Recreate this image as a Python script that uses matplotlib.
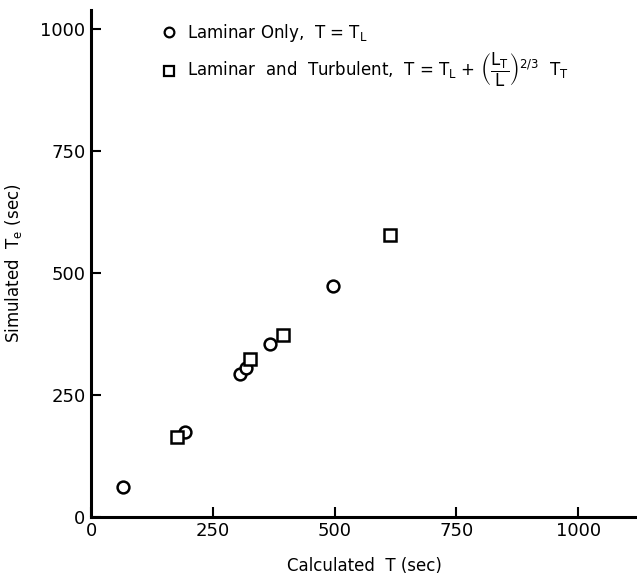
import matplotlib.pyplot as plt
from matplotlib.lines import Line2D

# laminar only (circles)
lam_x = [66, 192, 306, 318, 368, 496]
lam_y = [62, 173, 292, 305, 354, 472]
# laminar and turbulent (squares)
turb_x = [177, 327, 394, 614]
turb_y = [163, 324, 373, 578]

ticks = [0, 250, 500, 750, 1000]
tick_labels = ['0', '250', '500', '750', '1000']

fig = plt.figure(figsize=(6.37, 5.8), dpi=100)
ax = fig.add_axes([0.143, 0.109, 0.857, 0.874])

ax.plot(lam_x, lam_y, 'o', ms=8.5, mfc='white', mec='black', mew=1.8, ls='none')
ax.plot(turb_x, turb_y, 's', ms=8, mfc='white', mec='black', mew=1.8, ls='none')

ax.set_xlim(0, 1121)
ax.set_ylim(0, 1039)
ax.set_xticks(ticks)
ax.set_xticklabels(tick_labels)
ax.set_yticks(ticks)
ax.set_yticklabels(tick_labels)
ax.tick_params(direction='in', length=7, width=1.5, labelsize=13, pad=4)

for s in ['top', 'right']:
    ax.spines[s].set_visible(False)
for s in ['left', 'bottom']:
    ax.spines[s].set_linewidth(2.2)

ax.set_xlabel('Calculated  T (sec)', fontsize=12, labelpad=12)
ax.set_ylabel('Simulated  $\\mathregular{T_e}$ (sec)', fontsize=12, labelpad=12)

handles = [
    Line2D([], [], marker='o', ls='none', ms=7, mfc='white', mec='black', mew=1.6),
    Line2D([], [], marker='s', ls='none', ms=7, mfc='white', mec='black', mew=1.6),
]
labels = [
    'Laminar Only,  T = $\\mathregular{T_L}$',
    'Laminar  and  Turbulent,  T = $\\mathregular{T_L}$ + '
    '$\\left(\\dfrac{\\mathregular{L_T}}{\\mathregular{L}}\\right)^{2/3}$  $\\mathregular{T_T}$',
]
ax.legend(handles, labels, loc='upper left', bbox_to_anchor=(0.1, 1.005),
          frameon=False, fontsize=12, handletextpad=0.6, labelspacing=0.4,
          handlelength=1.0)

fig.savefig('out.png', dpi=100)
